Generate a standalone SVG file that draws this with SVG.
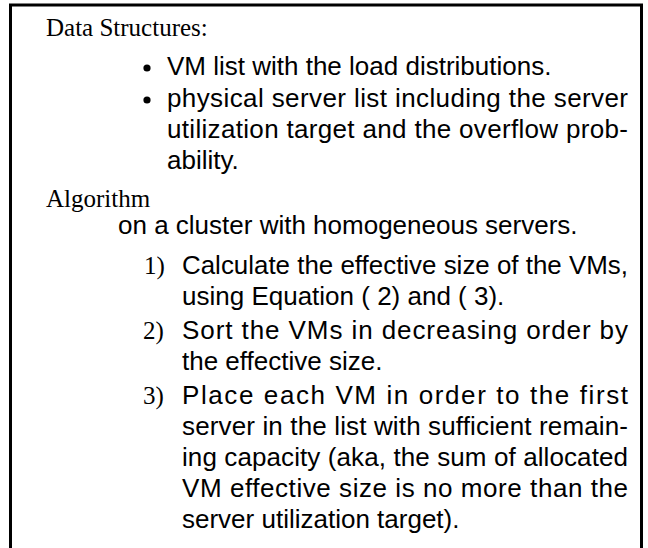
<svg xmlns="http://www.w3.org/2000/svg" width="648" height="548" viewBox="0 0 648 548">
<style>
.s{font-family:"Liberation Sans",Arial,sans-serif;font-size:26px;fill:#000}
.r{font-family:"Liberation Serif","Times New Roman",serif;font-size:25px;fill:#000}
.n{font-family:"Liberation Serif","Times New Roman",serif;font-size:25px;fill:#000}
.b{fill:#000}
</style>
<rect width="648" height="548" fill="#fff"/>
<g id="frame"><path d="M10.5,548V5H641.5V548" fill="none" stroke="#000" stroke-width="3"/></g>
<g id="data-structures">
<text class="r" x="46" y="36">Data Structures:</text>
<circle class="b" cx="147" cy="68" r="3.6"/>
<text class="s" x="167" y="75">VM list with the load distributions.</text>
<circle class="b" cx="147" cy="100" r="3.6"/>
<text class="s" x="167" y="107" textLength="461" lengthAdjust="spacing">physical server list including the server</text>
<text class="s" x="167" y="138" textLength="461" lengthAdjust="spacing">utilization target and the overflow prob-</text>
<text class="s" x="167" y="169">ability.</text>
</g>
<g id="algorithm">
<text class="r" x="46" y="207">Algorithm</text>
<text class="s" x="118" y="234">on a cluster with homogeneous servers.</text>
<text class="n" x="144" y="274">1)</text>
<text class="s" x="182" y="274" textLength="446" lengthAdjust="spacingAndGlyphs">Calculate the effective size of the VMs,</text>
<text class="s" x="182" y="305">using Equation ( 2) and ( 3).</text>
<text class="n" x="143" y="339">2)</text>
<text class="s" x="182" y="339" textLength="446" lengthAdjust="spacing">Sort the VMs in decreasing order by</text>
<text class="s" x="182" y="370">the effective size.</text>
<text class="n" x="143" y="404">3)</text>
<text class="s" x="182" y="404" textLength="446" lengthAdjust="spacing">Place each VM in order to the first</text>
<text class="s" x="182" y="435" textLength="446" lengthAdjust="spacing">server in the list with sufficient remain-</text>
<text class="s" x="182" y="466" textLength="446" lengthAdjust="spacing">ing capacity (aka, the sum of allocated</text>
<text class="s" x="182" y="497" textLength="446" lengthAdjust="spacing">VM effective size is no more than the</text>
<text class="s" x="182" y="528">server utilization target).</text>
</g>
</svg>
